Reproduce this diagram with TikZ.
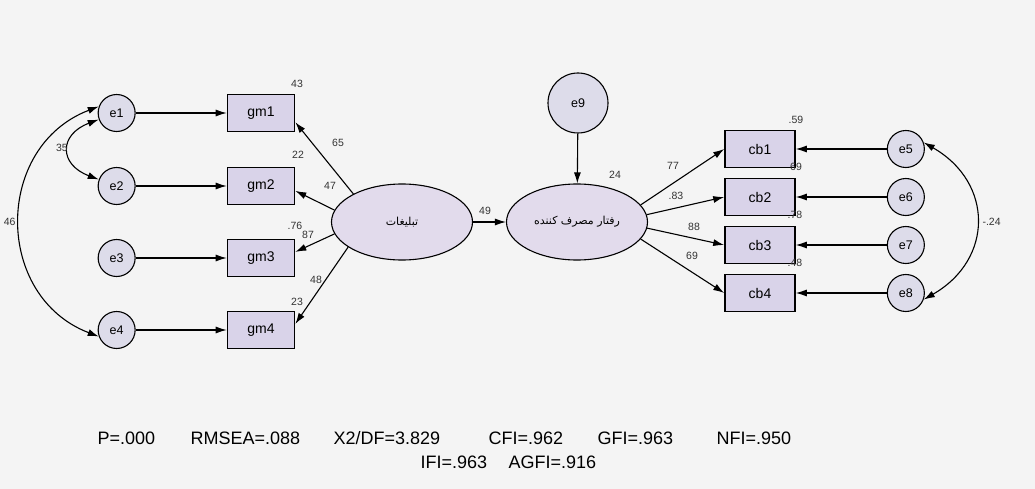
\documentclass[tikz,border=0pt]{standalone}
\usepackage{fontspec}
\setmainfont{Liberation Sans}
\newfontfamily\arabicfont[Script=Arabic]{DejaVu Sans}
\TeXXeTstate=1
\usetikzlibrary{arrows.meta,shapes.geometric,positioning}
\definecolor{bgcol}{RGB}{244,244,244}
\definecolor{errfill}{RGB}{221,220,234}
\definecolor{obsfill}{RGB}{217,211,233}
\definecolor{latfill}{RGB}{226,219,236}
\newcommand{\lblfont}{\fontsize{10.5}{10.5}\selectfont}
\newcommand{\fitfont}{\fontsize{18}{18}\selectfont}

\begin{document}
\begin{tikzpicture}[x=1pt,y=-1pt,
        >={Latex[length=11pt,width=7pt]},
        every path/.style={line width=1.1pt},
        ErrStyle/.style={circle,draw,fill=errfill,minimum size=37pt,inner sep=0pt,font=\fontsize{12.5}{12.5}\selectfont},
        ObsStyle/.style={rectangle,draw,line width=1.6pt,fill=obsfill,minimum width=67pt,minimum height=37pt,inner sep=0pt,font=\fontsize{14}{14}\selectfont},
        LatStyle/.style={ellipse,draw,fill=latfill,minimum width=141pt,minimum height=76pt,inner sep=0pt,font=\fontsize{11}{12}\arabicfont},
        LblStyle/.style={inner sep=0pt,text=black!80,font=\lblfont},
        FitStyle/.style={inner sep=0pt,anchor=base west,font=\fitfont}]
    \useasboundingbox[fill=bgcol] (0,0) rectangle (1035,489);
        % indicators of the first factor
        \node[ObsStyle] (gm1) at (261,113) {gm1};
        \node[ObsStyle] (gm2) at (261,186) {gm2};
        \node[ObsStyle] (gm3) at (261,258) {gm3};
        \node[ObsStyle] (gm4) at (261,330) {gm4};
        \node[ErrStyle, left=91pt of gm1] (e1) {e1};
        \node[ErrStyle, left=91pt of gm2] (e2) {e2};
        \node[ErrStyle, left=91pt of gm3] (e3) {e3};
        \node[ErrStyle, left=91pt of gm4] (e4) {e4};
        % latent variables
        \node[LatStyle] (tab) at (402,222) {\beginR تبلیغات\endR};
        \node[LatStyle] (rfr) at (577,222) {\beginR رفتار مصرف کننده\endR};
        \node[ErrStyle, minimum size=60pt] (e9) at (578,103) {e9};
        % indicators of the second factor
        \node[ObsStyle, minimum width=70pt] (cb1) at (760,149) {cb1};
        \node[ObsStyle, minimum width=70pt] (cb2) at (760,197) {cb2};
        \node[ObsStyle, minimum width=70pt] (cb3) at (760,245) {cb3};
        \node[ObsStyle, minimum width=70pt] (cb4) at (760,293) {cb4};
        \node[ErrStyle, right=91pt of cb1] (e5) {e5};
        \node[ErrStyle, right=91pt of cb2] (e6) {e6};
        \node[ErrStyle, right=91pt of cb3] (e7) {e7};
        \node[ErrStyle, right=91pt of cb4] (e8) {e8};

        \draw[->] (e1) -- (gm1);
        \draw[->] (e2) -- (gm2);
        \draw[->] (e3) -- (gm3);
        \draw[->] (e4) -- (gm4);
        \draw[->] (tab.150) -- (gm1.-15);
        \draw[->] (tab.170) -- (gm2.-8);
        \draw[->] (tab.190) -- (gm3.10);
        \draw[->] (tab.205) -- (gm4.10);
        \draw[->] (tab) -- (rfr);
        \draw[->] (e9) -- (rfr);
        \draw[->] (rfr.15) -- (cb1.west);
        \draw[->] (rfr.6) -- (cb2.west);
        \draw[->] (rfr.-5) -- (cb3.west);
        \draw[->] (rfr.-15) -- (cb4.west);
        \draw[->] (e5) -- (cb1);
        \draw[->] (e6) -- (cb2);
        \draw[->] (e7) -- (cb3);
        \draw[->] (e8) -- (cb4);
        % covariances
        \draw[<->] (e1.200) .. controls +(-40,15) and +(-40,-15) .. (e2.160);
        \draw[<->] (e1.160) .. controls +(-105,40) and +(-105,-40) .. (e4.200);
        \draw[<->] (e5.20) .. controls +(70,40) and +(70,-40) .. (e8.-20);

        % estimates
        \node[LblStyle] (l43) at (297,84) {43};
        \node[LblStyle] (l65) at (338,143) {65};
        \node[LblStyle] (l22) at (298,155) {22};
        \node[LblStyle] (l47) at (330,186) {47};
        \node[LblStyle] (l76) at (295,226) {.76};
        \node[LblStyle] (l87) at (308,235) {87};
        \node[LblStyle] (l48) at (316,280) {48};
        \node[LblStyle] (l23) at (297,302) {23};
        \node[LblStyle] (l35) at (62,148) {35};
        \node[LblStyle, anchor=east] (l46) at (16,222) {46};
        \node[LblStyle] (l49) at (485,211) {49};
        \node[LblStyle] (l24) at (615,175) {24};
        \node[LblStyle] (l77) at (673,166) {77};
        \node[LblStyle] (l83) at (676,196) {.83};
        \node[LblStyle] (l88) at (694,227) {88};
        \node[LblStyle] (l69) at (692,256) {69};
        \node[LblStyle] (l59) at (796,120) {.59};
        \node[LblStyle] (l69b) at (796,167) {69};
        \node[LblStyle] (l78) at (795,215) {.78};
        \node[LblStyle] (l48b) at (795,263) {.48};
        \node[LblStyle, anchor=west] (l24b) at (982,222) {-.24};

        % fit indices
        \node[FitStyle] (fitP) at (97,444) {P=.000};
        \node[FitStyle] (fitR) at (190,444) {RMSEA=.088};
        \node[FitStyle] (fitX) at (333,444) {X2/DF=3.829};
        \node[FitStyle] (fitC) at (488,444) {CFI=.962};
        \node[FitStyle] (fitG) at (597,444) {GFI=.963};
        \node[FitStyle] (fitN) at (716,444) {NFI=.950};
        \node[FitStyle] (fitI) at (420,468) {IFI=.963};
        \node[FitStyle] (fitA) at (508,468) {AGFI=.916};
    \end{tikzpicture}
\end{document}
